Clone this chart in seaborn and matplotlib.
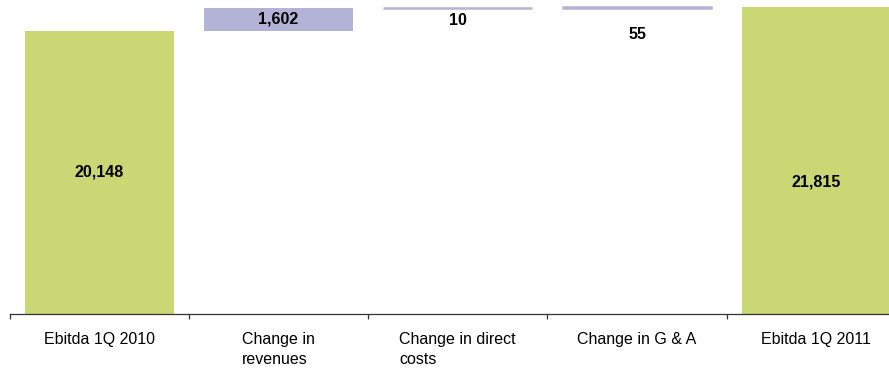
import matplotlib
matplotlib.use("Agg")
import matplotlib.pyplot as plt
import seaborn as sns
import numpy as np
import pandas as pd

# ---- data ----
categories = ["Ebitda 1Q 2010", "Change in\nrevenues", "Change in direct\ncosts",
              "Change in G & A", "Ebitda 1Q 2011"]
values = [20148, 1602, 10, 55, 21815]
kinds = ["total", "change", "change", "change", "total"]
value_labels = ["20,148", "1,602", "10", "55", "21,815"]

# waterfall bottoms derived from the data
bottoms = []
running = 0
for v, k in zip(values, kinds):
    if k == "total":
        bottoms.append(0)
        running = v
    else:
        bottoms.append(running)
        running += v

df = pd.DataFrame({"cat": categories, "val": values})

sns.set_theme(style="white")
plt.rcParams["font.family"] = ["Liberation Sans", "DejaVu Sans"]

GREEN = "#C9D775"
PURPLE = "#B3B3D7"

fig = plt.figure(figsize=(8.89, 3.68), dpi=100)
ax = fig.add_axes([9.5 / 889, 54 / 368, 896.5 / 889, 314 / 368])

sns.barplot(data=df, x="cat", y="val", ax=ax, width=0.83, color=GREEN,
            bottom=bottoms, linewidth=0, saturation=1)

for p, k, v in zip(ax.patches, kinds, values):
    if k == "change":
        p.set_facecolor(PURPLE)
        if v < 100:
            p.set_edgecolor(PURPLE)
            p.set_linewidth(1.8)

ax.set_xlim(-0.5, 4.5)
ax.set_ylim(0, 22333)

# value labels (pixel offsets converted to points)
label_offsets_px = [0, 0, -12, -27, -21]
for i, (b, v, lab, off) in enumerate(zip(bottoms, values, value_labels, label_offsets_px)):
    ax.annotate(lab, xy=(i, b + v / 2), xytext=(0, off * 0.72), textcoords="offset points",
                ha="center", va="center", fontsize=11.6, fontweight="bold", color="black")

ax.set_xlabel("")
ax.set_ylabel("")
ax.set_yticks([])
for s in ["top", "left", "right"]:
    ax.spines[s].set_visible(False)
ax.spines["bottom"].set_color("#333333")
ax.spines["bottom"].set_linewidth(0.9)

ax.set_xticks(range(len(categories)))
ax.set_xticklabels(categories, fontsize=11.5, color="black", multialignment="left",
                   linespacing=1.4)
ax.set_xticks(np.arange(-0.5, len(categories), 1.0), minor=True)
ax.tick_params(axis="x", which="major", length=0, pad=13)
ax.tick_params(axis="x", which="minor", length=3.8, width=0.9, color="#333333",
               direction="out", bottom=True)

fig.savefig("out.png", dpi=100)
